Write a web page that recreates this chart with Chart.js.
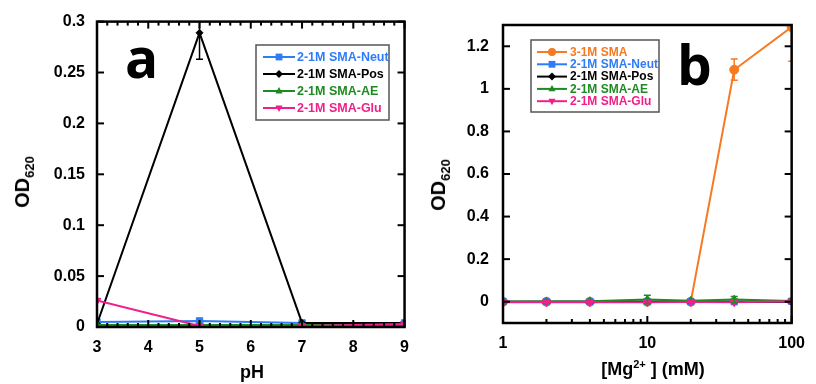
<!DOCTYPE html>
<html>
<head>
<meta charset="utf-8">
<script src="https://cdn.jsdelivr.net/npm/chart.js@4.4.1/dist/chart.umd.min.js"></script>
<style>
  body { margin: 0; background: #fff; width: 816px; height: 384px; overflow: hidden; position: relative; font-family: "Liberation Sans", Arial, sans-serif; }
  .pane { position: absolute; top: 0; height: 384px; }
  .lbl { position: absolute; font-weight: bold; color: #000; white-space: nowrap; line-height: 1; }
  .letter { font-family: "Open Sans", sans-serif; font-size: 55px; }
  .ytitle { font-size: 20px; transform: translate(-50%, -50%) rotate(-90deg); }
  .ytitle sub { font-size: 13px; }
  .xtitle { font-size: 18px; transform: translate(-50%, -50%); }
  .xtitle sup { font-size: 11px; }
</style>
</head>
<body>
<div class="pane" style="left:0;width:420px"><canvas id="chartA" width="420" height="384"></canvas></div>
<div class="pane" style="left:420px;width:396px"><canvas id="chartB" width="396" height="384"></canvas></div>

<div class="lbl letter" style="left:125px;top:29px">a</div>
<div class="lbl letter" style="left:677px;top:36px">b</div>
<div class="lbl ytitle" style="left:24px;top:182px">OD<sub>620</sub></div>
<div class="lbl ytitle" style="left:440px;top:185px">OD<sub>620</sub></div>
<div class="lbl xtitle" style="left:252px;top:372px">pH</div>
<div class="lbl xtitle" style="left:653px;top:368px">[Mg<sup>2+</sup> ] (mM)</div>

<script>
// ---- panel a: OD620 vs pH ----
const phValues = [3, 5, 7, 9];
const neutA = [0.005, 0.006, 0.004, 0.004];
const posA = [0.003, 0.289, 0.004, 0.004];
const posAErr = [0, 0.026, 0, 0];
const aeA = [0.002, 0.002, 0.002, 0.002];
const gluA = [0.026, 0.001, 0.001, 0.003];
const xTicksA = [3, 4, 5, 6, 7, 8, 9];
const yTicksA = [0, 0.05, 0.1, 0.15, 0.2, 0.25, 0.3];

// ---- panel b: OD620 vs [Mg2+] ----
const mgValues = [1, 2, 4, 10, 20, 40, 100];
const sma31B = [0, 0, 0, 0, 0.0, 1.09, 1.29];
const sma31BErr = [0, 0, 0, 0, 0, 0.05, 0.16];
const neutB = [0, 0, 0, 0, 0, 0, 0.002];
const posB = [0, 0, 0, 0, 0, 0, 0];
const aeB = [0, 0.001, 0.002, 0.01, 0.004, 0.01, 0.003];
const aeBErr = [0, 0, 0, 0.02, 0, 0.015, 0];
const gluB = [-0.002, -0.002, -0.002, -0.002, -0.001, -0.002, 0.002];
const xTicksB = [1, 10, 100];
const xMinorB = [2, 3, 4, 5, 6, 7, 8, 9, 20, 30, 40, 50, 60, 70, 80, 90];
const yTicksB = [0, 0.2, 0.4, 0.6, 0.8, 1, 1.2];

const BLUE = '#2f7df6', BLACK = '#000000', GREEN = '#1f8a24', PINK = '#f0208a', ORANGE = '#f57a22';

function series(label, xs, ys, color, style, rot, errs) {
  return {
    label: label,
    data: xs.map((x, i) => ({ x: x, y: ys[i] })),
    borderColor: color,
    backgroundColor: color,
    borderWidth: 2,
    pointStyle: style,
    pointRotation: rot || 0,
    pointRadius: style === 'rectRot' ? 3.5 : 4.5,
    pointBorderWidth: 1,
    errors: errs || null
  };
}

// draws marker shapes for the legend
function marker(ctx, style, rot, x, y, r) {
  ctx.save();
  ctx.translate(x, y);
  ctx.rotate(rot * Math.PI / 180);
  ctx.beginPath();
  if (style === 'circle') ctx.arc(0, 0, r, 0, Math.PI * 2);
  else if (style === 'rect') ctx.rect(-r * 0.85, -r * 0.85, r * 1.7, r * 1.7);
  else if (style === 'rectRot') { ctx.moveTo(0, -r); ctx.lineTo(r, 0); ctx.lineTo(0, r); ctx.lineTo(-r, 0); ctx.closePath(); }
  else if (style === 'triangle') { ctx.moveTo(0, -r); ctx.lineTo(r * 0.9, r * 0.6); ctx.lineTo(-r * 0.9, r * 0.6); ctx.closePath(); }
  ctx.fill();
  ctx.restore();
}

const framePlugin = {
  id: 'frame',
  afterDatasetsDraw(chart, args, opts) {
    const ctx = chart.ctx, a = chart.chartArea;
    const sx = chart.scales.x, sy = chart.scales.y;
    // error bars
    ctx.save();
    ctx.beginPath();
    ctx.rect(a.left, a.top, a.right - a.left, a.bottom - a.top);
    ctx.clip();
    chart.data.datasets.forEach(ds => {
      if (!ds.errors) return;
      ctx.strokeStyle = ds.borderColor;
      ctx.lineWidth = 1.5;
      ds.data.forEach((p, i) => {
        const e = ds.errors[i];
        if (!e) return;
        const x = sx.getPixelForValue(p.x);
        const y1 = sy.getPixelForValue(p.y - e), y2 = sy.getPixelForValue(p.y + e);
        ctx.beginPath();
        ctx.moveTo(x, y1); ctx.lineTo(x, y2);
        ctx.moveTo(x - 3.5, y1); ctx.lineTo(x + 3.5, y1);
        ctx.moveTo(x - 3.5, y2); ctx.lineTo(x + 3.5, y2);
        ctx.stroke();
      });
    });
    ctx.restore();

    // inward ticks
    ctx.save();
    ctx.strokeStyle = '#000';
    ctx.lineWidth = 2;
    const tick = (x1, y1, x2, y2) => { ctx.beginPath(); ctx.moveTo(x1, y1); ctx.lineTo(x2, y2); ctx.stroke(); };
    (opts.xEdges || []).forEach(edge => {
      const y0 = edge === 'top' ? a.top : a.bottom, dir = edge === 'top' ? 1 : -1;
      opts.xMajor.forEach(v => { const x = sx.getPixelForValue(v); tick(x, y0, x, y0 + dir * opts.majorLen); });
      (opts.xMinor || []).forEach(v => { const x = sx.getPixelForValue(v); tick(x, y0, x, y0 + dir * opts.minorLen); });
    });
    (opts.yEdges || []).forEach(edge => {
      const x0 = edge === 'left' ? a.left : a.right, dir = edge === 'left' ? 1 : -1;
      opts.yMajor.forEach(v => { const y = sy.getPixelForValue(v); tick(x0, y, x0 + dir * opts.majorLen, y); });
    });
    ctx.lineWidth = 2.5;
    ctx.strokeRect(a.left, a.top, a.right - a.left, a.bottom - a.top);
    ctx.restore();

    // boxed legend
    const L = opts.legend;
    ctx.save();
    ctx.fillStyle = '#fff';
    ctx.fillRect(L.x, L.y, L.w, L.h);
    ctx.strokeStyle = '#555';
    ctx.lineWidth = 1.5;
    ctx.strokeRect(L.x, L.y, L.w, L.h);
    ctx.font = 'bold ' + L.fontSize + 'px "Liberation Sans", Arial, sans-serif';
    ctx.textBaseline = 'middle';
    chart.data.datasets.forEach((ds, i) => {
      const y = L.y + L.firstRow + i * L.rowH;
      ctx.strokeStyle = ds.borderColor;
      ctx.fillStyle = ds.borderColor;
      ctx.lineWidth = 2;
      ctx.beginPath(); ctx.moveTo(L.lineX1, y); ctx.lineTo(L.lineX2, y); ctx.stroke();
      marker(ctx, ds.pointStyle, ds.pointRotation, (L.lineX1 + L.lineX2) / 2, y, 4);
      ctx.fillText(ds.label, L.textX, y + 0.5);
    });
    ctx.restore();
  }
};

const tickFont = { family: '"Liberation Sans", Arial, sans-serif', size: 16, weight: 'bold' };
const noGrid = { display: false, drawTicks: false };

function fixedTicks(list) {
  return s => { s.ticks = list.map(v => ({ value: v })); };
}

const dsA = [
  series('2-1M SMA-Neut', phValues, neutA, BLUE, 'rect'),
  series('2-1M SMA-Pos', phValues, posA, BLACK, 'rectRot', 0, posAErr),
  series('2-1M SMA-AE', phValues, aeA, GREEN, 'triangle'),
  series('2-1M SMA-Glu', phValues, gluA, PINK, 'triangle', 180)
];
dsA.forEach((d, i) => { d.order = dsA.length - i; });

new Chart(document.getElementById('chartA'), {
  type: 'line',
  data: { datasets: dsA },
  options: {
    responsive: false,
    animation: false,
    layout: { padding: { top: 20, right: 14, left: 0, bottom: 0 } },
    plugins: {
      legend: { display: false },
      tooltip: { enabled: false },
      frame: {
        xEdges: ['top', 'bottom'], yEdges: ['left', 'right'],
        xMajor: xTicksA,
        xMinor: xTicksA.slice(0, -1).flatMap(v => [0.2, 0.4, 0.6, 0.8].map(f => v + f)),
        yMajor: yTicksA,
        majorLen: 7, minorLen: 4,
        legend: { x: 256, y: 45, w: 133, h: 75, firstRow: 12, rowH: 17, lineX1: 263, lineX2: 295, textX: 297, fontSize: 12.5 }
      }
    },
    scales: {
      x: {
        type: 'linear', min: 3, max: 9,
        afterBuildTicks: fixedTicks(xTicksA),
        afterFit: s => { s.height = 57; },
        ticks: { font: tickFont, color: '#000', padding: 11 },
        grid: noGrid, border: { display: false }
      },
      y: {
        min: 0, max: 0.3,
        afterBuildTicks: fixedTicks(yTicksA),
        afterFit: s => { s.width = 97; },
        ticks: { font: tickFont, color: '#000', padding: 12, callback: v => String(+v.toFixed(2)) },
        grid: noGrid, border: { display: false }
      }
    }
  },
  plugins: [framePlugin]
});

const dsB = [
  series('3-1M SMA', mgValues, sma31B, ORANGE, 'circle', 0, sma31BErr),
  series('2-1M SMA-Neut', mgValues, neutB, BLUE, 'rect'),
  series('2-1M SMA-Pos', mgValues, posB, BLACK, 'rectRot'),
  series('2-1M SMA-AE', mgValues, aeB, GREEN, 'triangle', 0, aeBErr),
  series('2-1M SMA-Glu', mgValues, gluB, PINK, 'triangle', 180)
];
dsB.forEach((d, i) => { d.order = dsB.length - i; });

new Chart(document.getElementById('chartB'), {
  type: 'line',
  data: { datasets: dsB },
  options: {
    responsive: false,
    animation: false,
    layout: { padding: { top: 25, right: 15, left: 0, bottom: 0 } },
    plugins: {
      legend: { display: false },
      tooltip: { enabled: false },
      frame: {
        xEdges: ['bottom'], yEdges: ['left', 'right'],
        xMajor: xTicksB, xMinor: xMinorB,
        yMajor: yTicksB,
        majorLen: 7, minorLen: 4,
        legend: { x: 111, y: 40, w: 128, h: 72, firstRow: 12, rowH: 12.3, lineX1: 117, lineX2: 147, textX: 150, fontSize: 12 }
      }
    },
    scales: {
      x: {
        type: 'logarithmic', min: 1, max: 100,
        afterBuildTicks: fixedTicks(xTicksB),
        afterFit: s => { s.height = 61; },
        ticks: { font: tickFont, color: '#000', padding: 11, callback: v => String(v) },
        grid: noGrid, border: { display: false }
      },
      y: {
        min: -0.1, max: 1.3,
        afterBuildTicks: fixedTicks(yTicksB),
        afterFit: s => { s.width = 83; },
        ticks: { font: tickFont, color: '#000', padding: 14, callback: v => String(+v.toFixed(1)) },
        grid: noGrid, border: { display: false }
      }
    }
  },
  plugins: [framePlugin]
});
</script>
</body>
</html>
